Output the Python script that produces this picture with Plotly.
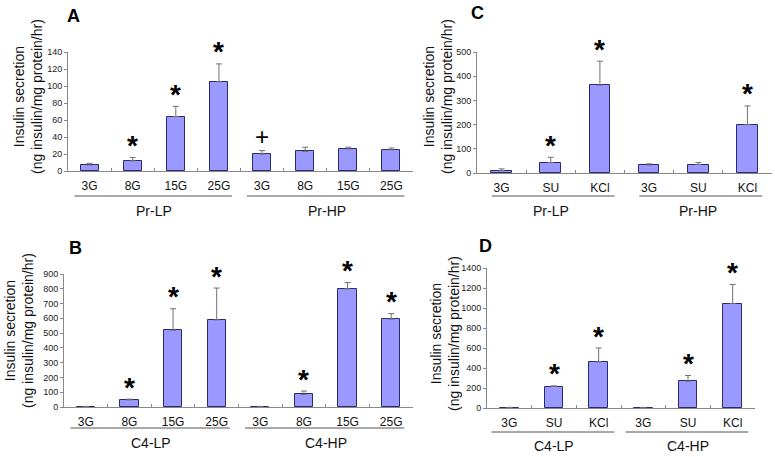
import plotly.graph_objects as go

# ---------------- data ----------------
a_cats = ["3G", "8G", "15G", "25G", "3G", "8G", "15G", "25G"]
a_mean = [7, 12, 64, 105, 20, 23, 26, 25]
a_errtop = [9, 16, 76, 126, 24, 28, 28, 27]
a_marks = ["", "*", "*", "*", "+", "", "", ""]
a_groups = ["Pr-LP", "Pr-HP"]

c_cats = ["3G", "SU", "KCl", "3G", "SU", "KCl"]
c_mean = [10, 43, 363, 33, 35, 200]
c_errtop = [17, 65, 462, 38, 43, 277]
c_marks = ["", "*", "*", "", "", "*"]
c_groups = ["Pr-LP", "Pr-HP"]

b_cats = ["3G", "8G", "15G", "25G", "3G", "8G", "15G", "25G"]
b_mean = [3, 48, 520, 590, 3, 85, 800, 595]
b_errtop = [4, 53, 665, 805, 4, 108, 842, 632]
b_marks = ["", "*", "*", "*", "", "*", "*", "*"]
b_groups = ["C4-LP", "C4-HP"]

d_cats = ["3G", "SU", "KCl", "3G", "SU", "KCl"]
d_mean = [5, 215, 462, 5, 268, 1045]
d_errtop = [6, 222, 600, 6, 325, 1235]
d_marks = ["", "*", "*", "", "*", "*"]
d_groups = ["C4-LP", "C4-HP"]

FONT = "Liberation Sans, Arial, sans-serif"
W, H = 775, 457

panels = [
    dict(key="", label="A", cats=a_cats, mean=a_mean, top=a_errtop, marks=a_marks, groups=a_groups,
         xpx=(68, 413), ypx=(52, 171), yr=140, dt=20, pad=(0.35, 0.3),
         line_y=196, glab_y=211, lab=(73, 16), title=(28, 97)),
    dict(key="2", label="C", cats=c_cats, mean=c_mean, top=c_errtop, marks=c_marks, groups=c_groups,
         xpx=(477, 772), ypx=(52, 173), yr=500, dt=100, pad=(0.2, 0.3),
         line_y=196, glab_y=211, lab=(477, 13), title=(438, 97)),
    dict(key="3", label="B", cats=b_cats, mean=b_mean, top=b_errtop, marks=b_marks, groups=b_groups,
         xpx=(64, 413), ypx=(274, 407), yr=900, dt=100, pad=(0.35, 0.3),
         line_y=428, glab_y=443, lab=(75, 248), title=(19, 331)),
    dict(key="4", label="D", cats=d_cats, mean=d_mean, top=d_errtop, marks=d_marks, groups=d_groups,
         xpx=(487, 755), ypx=(268, 408), yr=1400, dt=200, pad=(0.4, 0.35),
         line_y=432, glab_y=446, lab=(485, 246), title=(445, 334)),
]

fig = go.Figure()
annotations = []
shapes = []
layout = {}

for p in panels:
    k = p["key"]
    n = len(p["cats"])
    xs = list(range(n))
    fig.add_trace(go.Bar(
        x=xs, y=p["mean"], width=0.42,
        marker=dict(color="#9999ff", line=dict(color="#2b2b66", width=1)),
        error_y=dict(type="data", symmetric=False,
                     array=[t - m for t, m in zip(p["top"], p["mean"])],
                     arrayminus=[0] * n, color="#707070", thickness=1, width=3),
        xaxis="x" + k, yaxis="y" + k, showlegend=False, hoverinfo="skip",
    ))
    x0, x1 = p["xpx"]
    yt, yb = p["ypx"]
    layout["xaxis" + k] = dict(
        domain=[x0 / W, x1 / W], anchor="y" + k, range=[-0.5, n - 0.5],
        tickmode="array", tickvals=xs, ticktext=p["cats"], ticks="",
        ticklabelstandoff=4, automargin=False,
        tickfont=dict(family=FONT, size=12, color="#111"),
        showline=True, linecolor="#888", linewidth=1, showgrid=False, zeroline=False,
        minor=dict(tickmode="array", tickvals=[i + 0.5 for i in range(n - 1)],
                   ticks="inside", ticklen=3, tickcolor="#888"),
        fixedrange=True,
    )
    layout["yaxis" + k] = dict(
        domain=[1 - yb / H, 1 - yt / H], anchor="x" + k, range=[0, p["yr"]],
        dtick=p["dt"], tick0=0, ticks="outside", ticklen=3, tickcolor="#888",
        automargin=False, fixedrange=True,
        tickfont=dict(family=FONT, size=9, color="#222"),
        showline=True, linecolor="#888", linewidth=1, showgrid=False, zeroline=False,
    )
    xr = "x" + k
    yr_ = "y" + k
    # significance marks
    for i, mk in enumerate(p["marks"]):
        if mk == "*":
            annotations.append(dict(x=i, y=p["top"][i], xref=xr, yref=yr_, text="<b>*</b>",
                                    showarrow=False, yanchor="middle", yshift=12,
                                    font=dict(family=FONT, size=28, color="#000")))
        elif mk == "+":
            annotations.append(dict(x=i, y=p["top"][i], xref=xr, yref=yr_, text="+",
                                    showarrow=False, yanchor="middle", yshift=14,
                                    font=dict(family=FONT, size=24, color="#000")))
    # group lines and labels
    half = n // 2
    for g, name in enumerate(p["groups"]):
        s, e = g * half, g * half + half - 1
        shapes.append(dict(type="line", xref=xr, yref="paper",
                           x0=s - p["pad"][0], x1=e + p["pad"][1],
                           y0=1 - p["line_y"] / H, y1=1 - p["line_y"] / H,
                           line=dict(color="#555", width=1)))
        annotations.append(dict(x=(s + e) / 2, y=1 - p["glab_y"] / H, xref=xr, yref="paper",
                                text=name, showarrow=False, yanchor="middle",
                                font=dict(family=FONT, size=14, color="#111")))
    # panel label
    annotations.append(dict(x=p["lab"][0] / W, y=1 - p["lab"][1] / H, xref="paper", yref="paper",
                            text="<b>" + p["label"] + "</b>", showarrow=False,
                            xanchor="center", yanchor="middle",
                            font=dict(family=FONT, size=18, color="#000")))
    # y title
    annotations.append(dict(x=p["title"][0] / W, y=1 - p["title"][1] / H, xref="paper", yref="paper",
                            text="Insulin secretion<br>(ng insulin/mg protein/hr)",
                            showarrow=False, textangle=-90, xanchor="center", yanchor="middle",
                            font=dict(family=FONT, size=14, color="#111")))

fig.update_layout(
    width=W, height=H, margin=dict(l=0, r=0, t=0, b=0, autoexpand=False),
    paper_bgcolor="white", plot_bgcolor="white", hovermode=False,
    annotations=annotations, shapes=shapes, bargap=0, **layout,
)

fig.write_html("out.html", config={"displayModeBar": False},
               post_script="document.body.style.margin='0';document.body.style.overflow='hidden';")
